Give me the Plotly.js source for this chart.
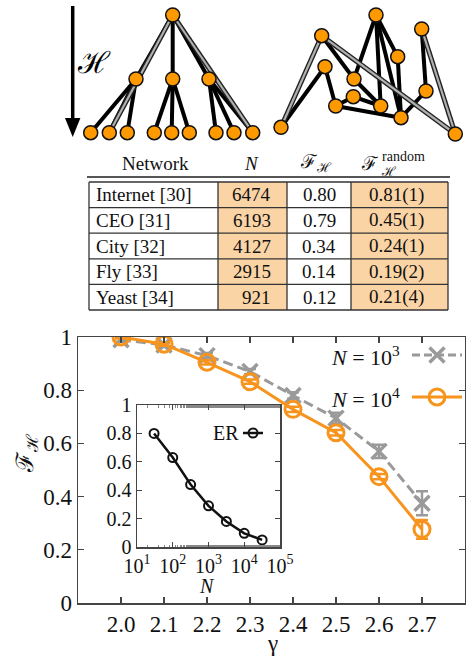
<!DOCTYPE html>
<html><head><meta charset="utf-8">
<script src="https://cdn.plot.ly/plotly-3.0.1.min.js"></script>
<style>html,body{margin:0;padding:0;background:#fff}#plot{width:466px;height:660px}</style>
</head><body><div id="plot"></div>
<script>
// ---- main panel data ----
const gamma = [2.0, 2.1, 2.2, 2.3, 2.4, 2.5, 2.6, 2.7];
const gammaTicks = ['2.0', '2.1', '2.2', '2.3', '2.4', '2.5', '2.6', '2.7'];
const fN1e3 = [0.99, 0.97, 0.93, 0.87, 0.78, 0.695, 0.57, 0.375];
const errN1e3 = [0.008, 0.008, 0.01, 0.01, 0.012, 0.02, 0.025, 0.045];
const fN1e4 = [1.0, 0.973, 0.905, 0.832, 0.728, 0.64, 0.475, 0.277];
const errN1e4 = [0.006, 0.006, 0.008, 0.008, 0.01, 0.01, 0.01, 0.035];
const yTicks = [0, 0.2, 0.4, 0.6, 0.8, 1];
const yTickText = ['0', '0.2', '0.4', '0.6', '0.8', '1'];
// ---- inset data (ER) ----
const erN = [30, 100, 316, 1000, 3162, 10000, 31623];
const erF = [0.80, 0.63, 0.44, 0.29, 0.18, 0.096, 0.05];
const insetTickVals = [10, 100, 1000, 10000, 100000];
const insetTickText = ['10<sup>1</sup>', '10<sup>2</sup>', '10<sup>3</sup>', '10<sup>4</sup>', '10<sup>5</sup>'];
// ---- table data ----
const tableHeader = ['Network', '<i>N</i>', 'ℱ<sub>ℋ</sub>'];
const netNames = ['Internet [30]', 'CEO [31]', 'City [32]', 'Fly [33]', 'Yeast [34]'];
const netN = [6474, 6193, 4127, 2915, 921];
const netF = ['0.80', '0.79', '0.34', '0.14', '0.12'];
const netFrand = ['0.81(1)', '0.45(1)', '0.24(1)', '0.19(2)', '0.21(4)'];
// ---- diagram data (hierarchical tree + random graph) ----
const treeX = [172.7, 136, 172.7, 209, 90.7, 109.3, 127.3, 154.3, 171.7, 189.3, 216, 234, 252.7];
const treeY = [15, 79, 79, 79, 132.7, 132.7, 132.7, 132.7, 132.7, 132.7, 132.7, 132.7, 132.7];
const treeEdges = [[0,1],[0,2],[0,3],[1,4],[1,5],[1,6],[2,7],[2,8],[2,9],[3,10],[3,11],[3,12]];
const treeGray = [[0,5],[0,12]];
const rgX = [376, 421.7, 321.7, 397.7, 325, 354, 426, 353.3, 335.7, 380.7, 401, 281, 455.3];
const rgY = [15, 29, 35.7, 56.7, 66.7, 79, 91, 96.7, 106, 106, 117.7, 127.3, 134];
const rgEdges = [[0,5],[0,9],[0,10],[0,3],[3,10],[2,5],[5,9],[4,11],[4,8],[8,7],[7,9],[8,10],[1,6],[6,10]];
const rgGray = [[2,11],[2,12],[1,12]];

// ---- styles ----
const ORANGE = '#f7941d';
const NODE = '#ff9900';
const GRAY = '#9a9a9a';
const PEACH = '#fbd4a6';
const AX = '#444';
const FONT = 'Liberation Serif, Times New Roman, serif';

function edgeXY(xs, ys, edges) {
  const x = [], y = [];
  edges.forEach(([a, b]) => { x.push(xs[a], xs[b], null); y.push(ys[a], ys[b], null); });
  return {x, y};
}
const P = {xaxis: 'x4', yaxis: 'y4'};
const traces = [];
[[treeX, treeY, treeEdges, treeGray], [rgX, rgY, rgEdges, rgGray]].forEach(([xs, ys, ed, gr]) => {
  const e = edgeXY(xs, ys, ed), g = edgeXY(xs, ys, gr);
  traces.push(Object.assign({type: 'scatter', mode: 'lines', x: e.x, y: e.y, line: {color: '#000', width: 4}, hoverinfo: 'skip'}, P));
  traces.push(Object.assign({type: 'scatter', mode: 'lines', x: g.x, y: g.y, line: {color: '#222', width: 5}, hoverinfo: 'skip'}, P));
  traces.push(Object.assign({type: 'scatter', mode: 'lines', x: g.x, y: g.y, line: {color: '#b0b0b0', width: 2.2}, hoverinfo: 'skip'}, P));
  traces.push(Object.assign({type: 'scatter', mode: 'markers', x: xs, y: ys, marker: {color: NODE, size: 14, line: {color: '#111', width: 1.5}}, hoverinfo: 'skip'}, P));
});

// main series
traces.push({type: 'scatter', mode: 'lines+markers', x: gamma, y: fN1e3, xaxis: 'x', yaxis: 'y',
  line: {color: GRAY, width: 3, dash: '10px,5px'},
  marker: {symbol: 'x-thin-open', size: 15, color: GRAY, line: {color: GRAY, width: 3.5}},
  error_y: {type: 'data', array: errN1e3, color: GRAY, thickness: 2.5, width: 6}});
traces.push({type: 'scatter', mode: 'lines+markers', x: gamma, y: fN1e4, xaxis: 'x', yaxis: 'y',
  line: {color: ORANGE, width: 3},
  marker: {symbol: 'circle-open', size: 16, color: ORANGE, line: {color: ORANGE, width: 3}},
  error_y: {type: 'data', array: errN1e4, color: ORANGE, thickness: 2.5, width: 6}});
// inset series
traces.push({type: 'scatter', mode: 'lines+markers', x: erN, y: erF, xaxis: 'x2', yaxis: 'y2',
  line: {color: '#111', width: 2.5},
  marker: {symbol: 'circle-open', size: 9, color: '#111', line: {color: '#111', width: 2}}});
// legend samples (page pixel space)
traces.push(Object.assign({type: 'scatter', mode: 'lines', x: [412, 462], y: [355, 355], line: {color: GRAY, width: 3, dash: '8px,4px'}}, P));
traces.push(Object.assign({type: 'scatter', mode: 'markers', x: [437], y: [355], marker: {symbol: 'x-thin-open', size: 15, color: GRAY, line: {color: GRAY, width: 3.5}}}, P));
traces.push(Object.assign({type: 'scatter', mode: 'lines', x: [412, 462], y: [397, 397], line: {color: ORANGE, width: 3}}, P));
traces.push(Object.assign({type: 'scatter', mode: 'markers', x: [437], y: [397], marker: {symbol: 'circle-open', size: 16, color: ORANGE, line: {color: ORANGE, width: 3}}}, P));
traces.push(Object.assign({type: 'scatter', mode: 'lines', x: [243, 263], y: [433, 433], line: {color: '#111', width: 2.5}}, P));
traces.push(Object.assign({type: 'scatter', mode: 'markers', x: [253], y: [433], marker: {symbol: 'circle-open', size: 9, color: '#111', line: {color: '#111', width: 2}}}, P));

// ---- table as shapes + annotations ----
const colEdges = [89, 218, 287, 351, 448];
const tTop = 182, rowH = 25.6;
const shapes = [];
const ann = [];
const cellFill = ['#ffffff', PEACH, '#ffffff', PEACH];
const cols = [netNames, netN.map(String), netF, netFrand];
const colAlign = [['left', 94], ['right', 273], ['center', 319], ['center', 396]];
for (let r = 0; r < netNames.length; r++) {
  for (let c = 0; c < 4; c++) {
    shapes.push({type: 'rect', xref: 'x4', yref: 'y4', x0: colEdges[c], x1: colEdges[c + 1],
      y0: tTop + r * rowH, y1: tTop + (r + 1) * rowH, fillcolor: cellFill[c], line: {width: 0}, layer: 'below'});
    ann.push({xref: 'x4', yref: 'y4', x: colAlign[c][1], xanchor: colAlign[c][0], y: tTop + (r + 0.5) * rowH, yanchor: 'middle',
      text: cols[c][r], showarrow: false, font: {family: FONT, size: 19, color: '#111'}});
  }
}
// table grid lines
for (let r = 0; r <= netNames.length; r++) {
  shapes.push({type: 'line', xref: 'x4', yref: 'y4', x0: colEdges[0], x1: colEdges[4], y0: tTop + r * rowH, y1: tTop + r * rowH, line: {color: '#333', width: 1.3}});
}
colEdges.forEach(x => shapes.push({type: 'line', xref: 'x4', yref: 'y4', x0: x, x1: x, y0: tTop, y1: tTop + 5 * rowH, line: {color: '#333', width: 1.3}}));
shapes.push({type: 'line', xref: 'x4', yref: 'y4', x0: 87, x1: 450, y0: 177, y1: 177, line: {color: '#555', width: 2}});
// header
const hdrX = [155, 251, 316];
tableHeader.forEach((t, i) => ann.push({xref: 'x4', yref: 'y4', x: hdrX[i], y: 163, text: t, showarrow: false,
  font: {family: FONT, size: 19, color: '#111'}}));
ann.push({xref: 'x4', yref: 'y4', x: 370, y: 163, text: 'ℱ', showarrow: false, font: {family: FONT, size: 19, color: '#111'}});
ann.push({xref: 'x4', yref: 'y4', x: 380, xanchor: 'left', y: 156, text: 'random', showarrow: false, font: {family: FONT, size: 14, color: '#111'}});
ann.push({xref: 'x4', yref: 'y4', x: 379, xanchor: 'left', y: 171, text: 'ℋ', showarrow: false, font: {family: FONT, size: 13, color: '#111'}});

// arrow
shapes.push({type: 'line', xref: 'x4', yref: 'y4', x0: 72.7, x1: 72.7, y0: 6, y1: 122, line: {color: '#000', width: 3.5}});
shapes.push({type: 'path', xref: 'x4', yref: 'y4', path: 'M 65 118 L 80.4 118 L 72.7 137 Z', fillcolor: '#000', line: {width: 0}});
ann.push({xref: 'x4', yref: 'y4', x: 94, y: 62, text: 'ℋ', showarrow: false, font: {family: 'DejaVu Serif, serif', size: 30, color: '#000'}});

// other labels
ann.push({xref: 'x4', yref: 'y4', x: 27, y: 453, text: 'ℱ<sub>ℋ</sub>', textangle: -90, showarrow: false, font: {family: FONT, size: 24, color: '#111'}});
ann.push({xref: 'x4', yref: 'y4', x: 272, y: 643, text: 'γ', showarrow: false, font: {family: FONT, size: 23, color: '#111'}});
ann.push({xref: 'x4', yref: 'y4', x: 207, y: 586, text: '<i>N</i>', showarrow: false, font: {family: FONT, size: 20, color: '#111'}});
ann.push({xref: 'x4', yref: 'y4', x: 402, xanchor: 'right', y: 356, text: '<i>N</i> = 10<sup>3</sup>', showarrow: false, font: {family: FONT, size: 22, color: '#111'}});
ann.push({xref: 'x4', yref: 'y4', x: 402, xanchor: 'right', y: 398, text: '<i>N</i> = 10<sup>4</sup>', showarrow: false, font: {family: FONT, size: 22, color: '#111'}});
ann.push({xref: 'x4', yref: 'y4', x: 241, xanchor: 'right', y: 433, text: 'ER', showarrow: false, font: {family: FONT, size: 20, color: '#111'}});

const axBase = {showline: true, linecolor: AX, linewidth: 1.5, mirror: 'ticks', ticks: 'inside', tickcolor: AX,
  tickwidth: 1.3, showgrid: false, zeroline: false, tickfont: {family: FONT, size: 23, color: '#111'}};
const layout = {
  width: 466, height: 660, margin: {l: 0, r: 0, t: 0, b: 0}, showlegend: false,
  paper_bgcolor: '#fff', plot_bgcolor: 'rgba(0,0,0,0)', font: {family: FONT, color: '#111'},
  xaxis: Object.assign({}, axBase, {domain: [78 / 466, 465 / 466], range: [1.9, 2.8], tickvals: gamma, ticktext: gammaTicks, ticklen: 6, anchor: 'y'}),
  yaxis: Object.assign({}, axBase, {domain: [1 - 603 / 660, 1 - 337 / 660], range: [0, 1], tickvals: yTicks, ticktext: yTickText, ticklen: 6, anchor: 'x'}),
  xaxis2: Object.assign({}, axBase, {type: 'log', domain: [137 / 466, 280 / 466], range: [1, 5], tickvals: insetTickVals, ticktext: insetTickText,
    ticklen: 5, anchor: 'y2', tickfont: {family: FONT, size: 20, color: '#111'}, minor: {ticks: 'inside', ticklen: 2.5, tickcolor: '#888', tickwidth: 1}}),
  yaxis2: Object.assign({}, axBase, {domain: [1 - 547 / 660, 1 - 405 / 660], range: [0, 1], tickvals: yTicks, ticktext: yTickText,
    ticklen: 5, anchor: 'x2', tickfont: {family: FONT, size: 20, color: '#111'}}),
  xaxis4: {domain: [0, 1], range: [0, 466], visible: false, anchor: 'y4', fixedrange: true},
  yaxis4: {domain: [0, 1], range: [660, 0], visible: false, anchor: 'x4', fixedrange: true},
  shapes: shapes, annotations: ann
};
Plotly.newPlot('plot', traces, layout, {displayModeBar: false, staticPlot: true});
</script></body></html>
